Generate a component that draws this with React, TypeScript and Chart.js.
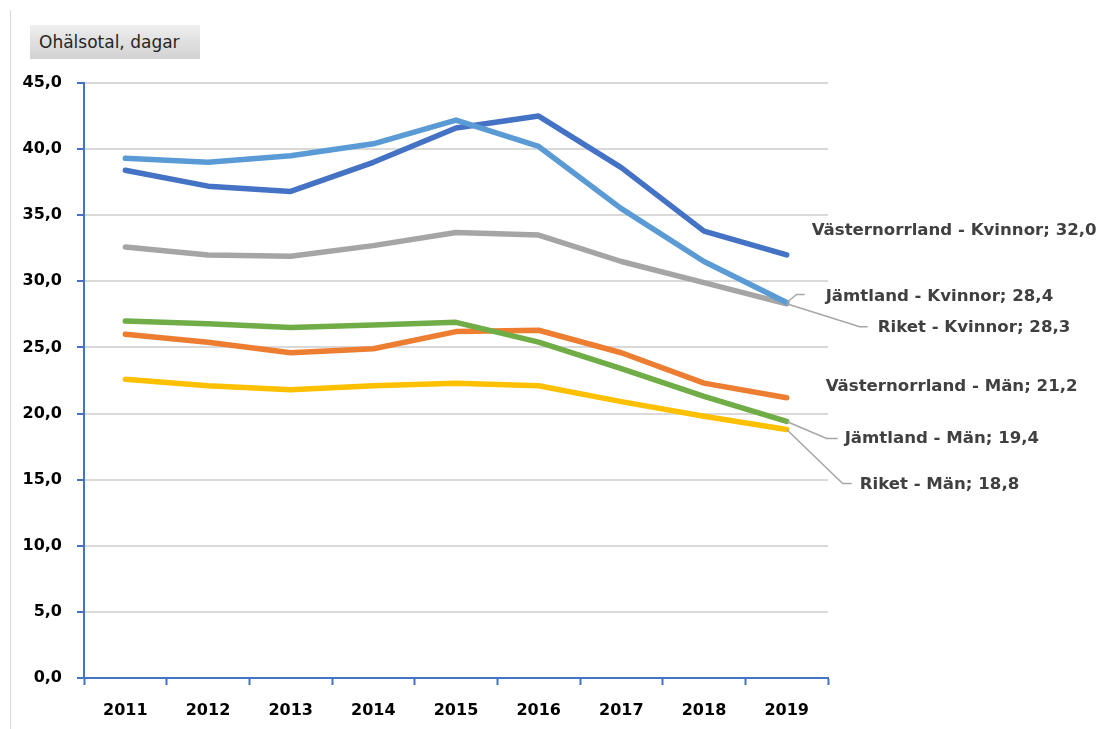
import React, { useEffect, useRef } from "react";
import { Chart, registerables } from "chart.js";

Chart.register(...registerables);

const years = ["2011", "2012", "2013", "2014", "2015", "2016", "2017", "2018", "2019"];

const vnKvinnor = [38.4, 37.2, 36.8, 39.0, 41.6, 42.5, 38.6, 33.8, 32.0];
const jKvinnor = [39.3, 39.0, 39.5, 40.4, 42.2, 40.2, 35.5, 31.5, 28.4];
const rKvinnor = [32.6, 32.0, 31.9, 32.7, 33.7, 33.5, 31.5, 29.9, 28.3];
const vnMan = [26.0, 25.4, 24.6, 24.9, 26.2, 26.3, 24.6, 22.3, 21.2];
const jMan = [27.0, 26.8, 26.5, 26.7, 26.9, 25.4, 23.4, 21.3, 19.4];
const rMan = [22.6, 22.1, 21.8, 22.1, 22.3, 22.1, 20.9, 19.8, 18.8];

const seriesNames = [
  "Västernorrland - Kvinnor",
  "Jämtland - Kvinnor",
  "Riket - Kvinnor",
  "Västernorrland - Män",
  "Jämtland - Män",
  "Riket - Män",
];
const seriesValues = [vnKvinnor, jKvinnor, rKvinnor, vnMan, jMan, rMan];
const seriesColors = ["#4472C4", "#5B9BD5", "#A5A5A5", "#ED7D31", "#70AD47", "#FFC000"];
const drawOrder = [2, 1, 3, 6, 5, 4];

const yTicksMax = 45;
const yTicksStep = 5;

// label placement relative to the last point (layout only)
const labelLayout = [
  { dx: 25, dy: -24, leader: [] as number[][] },
  { dx: 39, dy: -6, leader: [[10, -8], [18, -8]] },
  { dx: 91, dy: 24, leader: [[73, 23], [81, 23]] },
  { dx: 39, dy: -11, leader: [] as number[][] },
  { dx: 58, dy: 17, leader: [[40, 17], [51, 17]] },
  { dx: 73, dy: 55, leader: [[56, 54], [65, 54]] },
];

const FONT = "Tahoma, 'DejaVu Sans', sans-serif";
const fmt = (v: number) => v.toFixed(1).replace(".", ",");

const endLabels = {
  id: "endLabels",
  afterDatasetsDraw(chart: any) {
    const ctx = chart.ctx;
    ctx.save();
    chart.data.datasets.forEach((ds: any, i: number) => {
      const meta = chart.getDatasetMeta(i);
      const last = meta.data[meta.data.length - 1];
      if (!last) return;
      const px = last.x;
      const py = last.y;
      const lay = labelLayout[i];
      if (lay.leader.length) {
        ctx.beginPath();
        ctx.strokeStyle = "#A6A6A6";
        ctx.lineWidth = 1.5;
        ctx.moveTo(px, py);
        lay.leader.forEach((p) => ctx.lineTo(px + p[0], py + p[1]));
        ctx.stroke();
      }
      const val = ds.data[ds.data.length - 1];
      ctx.fillStyle = "#404040";
      ctx.font = "bold 16.6px " + FONT;
      ctx.textAlign = "left";
      ctx.textBaseline = "middle";
      ctx.fillText(`${ds.label}; ${fmt(val)}`, px + lay.dx, py + lay.dy);
    });
    ctx.restore();
  },
};

export default function App() {
  const ref = useRef<HTMLCanvasElement>(null);
  useEffect(() => {
    if (!ref.current) return;
    const chart = new Chart(ref.current, {
      type: "line",
      data: {
        labels: years,
        datasets: seriesNames.map((name, i) => ({
          label: name,
          data: seriesValues[i],
          borderColor: seriesColors[i],
          backgroundColor: seriesColors[i],
          borderWidth: 5.5,
          pointRadius: 0,
          pointHoverRadius: 0,
          tension: 0,
          borderCapStyle: "round" as const,
          borderJoinStyle: "round" as const,
          order: drawOrder[i],
        })),
      },
      options: {
        responsive: false,
        animation: false,
        layout: { padding: { left: 0, top: 83, right: 273, bottom: 0 } },
        plugins: {
          legend: { display: false },
          tooltip: { enabled: false },
          title: { display: false },
        },
        scales: {
          x: {
            type: "category",
            offset: true,
            afterFit: (s: any) => {
              s.height = 51;
            },
            grid: {
              offset: true,
              drawOnChartArea: false,
              drawTicks: true,
              tickLength: 7,
              tickColor: "#4472C4",
              tickWidth: 2,
            },
            border: { color: "#4472C4", width: 2 },
            ticks: {
              color: "#000000",
              font: { family: FONT, size: 16, weight: "bold" },
              padding: 16,
              maxRotation: 0,
            },
          },
          y: {
            min: 0,
            max: yTicksMax,
            afterFit: (s: any) => {
              s.width = 84;
            },
            grid: {
              color: "#D9D9D9",
              lineWidth: 2,
              drawTicks: true,
              tickLength: 7,
              tickColor: "#4472C4",
              tickWidth: 2,
            },
            border: { color: "#4472C4", width: 2 },
            ticks: {
              stepSize: yTicksStep,
              color: "#000000",
              font: { family: FONT, size: 16, weight: "bold" },
              padding: 15,
              callback: (v: any) => fmt(Number(v)),
            },
          },
        },
      },
      plugins: [endLabels],
    });
    return () => chart.destroy();
  }, []);

  return (
    <div style={{ position: "fixed", left: 0, top: 0, width: 1101, height: 729, background: "#fff" }}>
      <div
        style={{
          position: "absolute",
          left: 10,
          top: 10,
          width: 1,
          height: 719,
          background: "#D9D9D9",
        }}
      />
      <canvas ref={ref} width={1101} height={729} style={{ position: "absolute", left: 0, top: 0 }} />
      <div
        style={{
          position: "absolute",
          left: 30,
          top: 25,
          width: 170,
          height: 34,
          background: "linear-gradient(#eeeeee, #d2d2d2)",
          fontFamily: FONT,
          fontSize: 17,
          color: "#262626",
          lineHeight: "34px",
          paddingLeft: 9,
          boxSizing: "border-box",
          whiteSpace: "nowrap",
        }}
      >
        Ohälsotal, dagar
      </div>
    </div>
  );
}
